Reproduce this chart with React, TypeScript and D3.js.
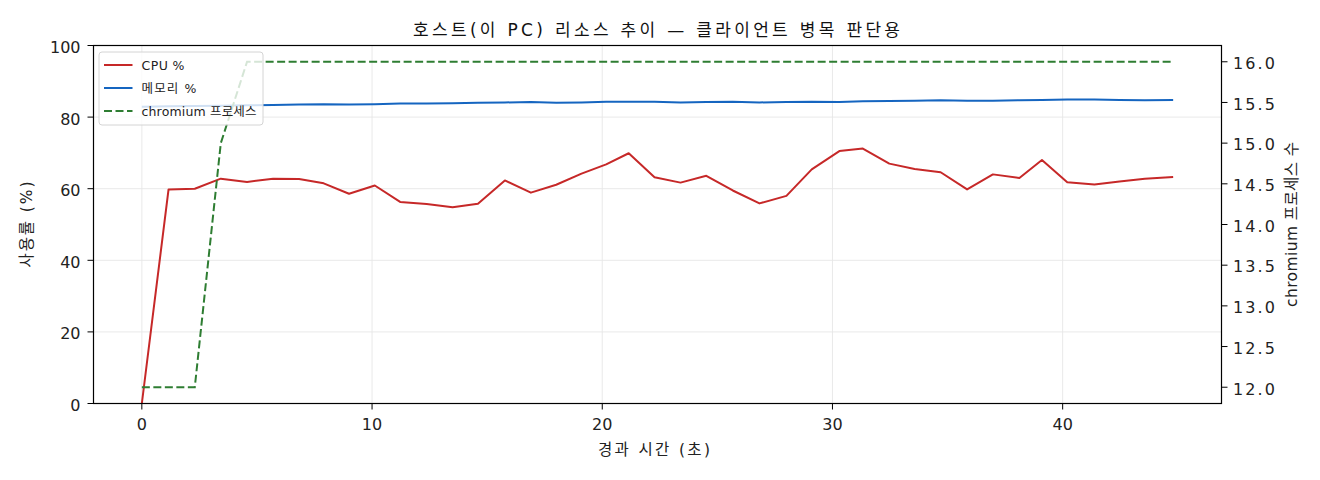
import React, { useEffect, useRef } from 'react';
import * as d3 from 'd3';

// elapsed seconds of each sample
const times = [
  0, 1.16, 2.3, 3.43, 4.57, 5.7, 6.83, 7.9, 9.0, 10.12, 11.22, 12.37, 13.5, 14.6, 15.77, 16.9, 18.0, 19.1,
  20.17, 21.15, 22.27, 23.4, 24.52, 25.67, 26.83, 28.0, 29.1, 30.3, 31.32, 32.47, 33.57, 34.7, 35.85,
  36.97, 38.12, 39.1, 40.2, 41.38, 42.47, 43.57, 44.8,
];

const cpu = [
  0, 59.8, 60.0, 62.8, 61.9, 62.8, 62.7, 61.5, 58.6, 60.9, 56.3, 55.7, 54.8, 55.8, 62.3, 58.9, 61.1, 64.2,
  66.8, 69.9, 63.2, 61.7, 63.6, 59.5, 55.9, 58.0, 65.4, 70.5, 71.2, 67.0, 65.5, 64.6, 59.8, 64.0, 63.0,
  68.0, 61.8, 61.2, 62.0, 62.8, 63.3,
];

const memory = [
  82.9, 83.0, 83.1, 83.2, 83.3, 83.4, 83.5, 83.6, 83.5, 83.6, 83.8, 83.8, 83.9, 84.0, 84.1, 84.2, 84.0,
  84.1, 84.3, 84.3, 84.3, 84.1, 84.2, 84.3, 84.1, 84.2, 84.3, 84.2, 84.4, 84.5, 84.6, 84.7, 84.6, 84.6,
  84.7, 84.8, 84.9, 84.9, 84.8, 84.7, 84.8,
];

const chromium = [
  12, 12, 12, 15, 16, 16, 16, 16, 16, 16, 16, 16, 16, 16, 16, 16, 16, 16, 16, 16, 16, 16, 16, 16, 16, 16,
  16, 16, 16, 16, 16, 16, 16, 16, 16, 16, 16, 16, 16, 16, 16,
];

const xTicks = [0, 10, 20, 30, 40];
const yTicks = [0, 20, 40, 60, 80, 100];
const y2Ticks = [12, 12.5, 13, 13.5, 14, 14.5, 15, 15.5, 16];

const legendItems = [
  { label: 'CPU %', color: '#c62828', dash: '', len: 43 },
  { label: '메모리 %', color: '#1565c0', dash: '', len: 55 },
  { label: 'chromium 프로세스', color: '#2e7d32', dash: '8,3.5', len: 115 },
];

const FONT = '"DejaVu Sans", "Noto Sans CJK KR", sans-serif';

const App = () => {
  const ref = useRef<SVGSVGElement>(null);

  useEffect(() => {
    const svg = d3.select(ref.current);
    svg.selectAll('*').remove();

    const left = 93.5;
    const right = 1221.5;
    const top = 45.5;
    const bottom = 403.5;

    const x = d3.scaleLinear().domain([-2.1, 46.9]).range([left, right]);
    const y = d3.scaleLinear().domain([0, 100]).range([bottom, top]);
    const y2 = d3.scaleLinear().domain([11.8, 16.2]).range([bottom, top]);

    svg.append('rect').attr('width', 1320).attr('height', 480).attr('fill', '#fff');

    // grid
    const grid = svg.append('g').attr('stroke', '#e6e6e6').attr('stroke-width', 0.9);
    xTicks.forEach((t) => {
      grid.append('line').attr('x1', x(t)).attr('x2', x(t)).attr('y1', top).attr('y2', bottom);
    });
    yTicks.forEach((t) => {
      grid.append('line').attr('x1', left).attr('x2', right).attr('y1', y(t)).attr('y2', y(t));
    });

    const idx = d3.range(times.length);

    const line1 = d3
      .line<number>()
      .x((i) => x(times[i]))
      .y((i) => y(cpu[i]));
    const line2 = d3
      .line<number>()
      .x((i) => x(times[i]))
      .y((i) => y(memory[i]));
    const line3 = d3
      .line<number>()
      .x((i) => x(times[i]))
      .y((i) => y2(chromium[i]));

    svg
      .append('path')
      .datum(idx)
      .attr('fill', 'none')
      .attr('stroke', legendItems[0].color)
      .attr('stroke-width', 2)
      .attr('stroke-linejoin', 'round')
      .attr('d', line1);

    svg
      .append('path')
      .datum(idx)
      .attr('fill', 'none')
      .attr('stroke', legendItems[1].color)
      .attr('stroke-width', 2)
      .attr('stroke-linejoin', 'round')
      .attr('d', line2);

    svg
      .append('path')
      .datum(idx)
      .attr('fill', 'none')
      .attr('stroke', legendItems[2].color)
      .attr('stroke-width', 2)
      .attr('stroke-dasharray', legendItems[2].dash)
      .attr('d', line3);

    // legend
    const lg = svg.append('g').attr('transform', 'translate(99,52)');
    lg.append('rect')
      .attr('width', 164)
      .attr('height', 73)
      .attr('rx', 3)
      .attr('fill', 'rgba(255,255,255,0.8)')
      .attr('stroke', '#d4d4d4')
      .attr('stroke-width', 1);
    legendItems.forEach((d, i) => {
      const cy = 13 + i * 23;
      lg.append('line')
        .attr('x1', 5)
        .attr('x2', 33.5)
        .attr('y1', cy)
        .attr('y2', cy)
        .attr('stroke', d.color)
        .attr('stroke-width', 2)
        .attr('stroke-dasharray', d.dash);
      lg.append('text')
        .attr('x', 42.5)
        .attr('y', cy + 4.5)
        .attr('font-size', 12.5)
        .attr('font-family', FONT)
        .attr('textLength', d.len)
        .attr('fill', '#222')
        .text(d.label);
    });

    // frame
    svg
      .append('rect')
      .attr('x', left)
      .attr('y', top)
      .attr('width', right - left)
      .attr('height', bottom - top)
      .attr('fill', 'none')
      .attr('stroke', '#000')
      .attr('stroke-width', 1.2);

    const ax = svg.append('g').attr('font-family', FONT).attr('font-size', 16).attr('fill', '#222');

    xTicks.forEach((t) => {
      ax.append('line').attr('x1', x(t)).attr('x2', x(t)).attr('y1', bottom).attr('y2', bottom + 6).attr('stroke', '#000');
      ax.append('text').attr('x', x(t)).attr('y', bottom + 26).attr('text-anchor', 'middle').text(t);
    });
    yTicks.forEach((t) => {
      ax.append('line').attr('x1', left - 6).attr('x2', left).attr('y1', y(t)).attr('y2', y(t)).attr('stroke', '#000');
      ax.append('text').attr('x', left - 13).attr('y', y(t) + 7.5).attr('text-anchor', 'end').text(t);
    });
    y2Ticks.forEach((t) => {
      ax.append('line').attr('x1', right).attr('x2', right + 6).attr('y1', y2(t)).attr('y2', y2(t)).attr('stroke', '#000');
      ax.append('text')
        .attr('x', right + 11.5)
        .attr('y', y2(t) + 7.3)
        .attr('text-anchor', 'start')
        .attr('textLength', 42)
        .text(t.toFixed(1));
    });

    // labels
    svg
      .append('text')
      .attr('x', 656.5)
      .attr('y', 36)
      .attr('text-anchor', 'middle')
      .attr('font-family', FONT)
      .attr('font-size', 17)
      .attr('textLength', 487)
      .attr('fill', '#111')
      .text('호스트(이 PC) 리소스 추이 — 클라이언트 병목 판단용');

    svg
      .append('text')
      .attr('x', 654)
      .attr('y', 455)
      .attr('text-anchor', 'middle')
      .attr('font-family', FONT)
      .attr('font-size', 15.5)
      .attr('textLength', 112)
      .attr('fill', '#222')
      .text('경과 시간 (초)');

    svg
      .append('text')
      .attr('transform', `translate(32,${(top + bottom) / 2}) rotate(-90)`)
      .attr('text-anchor', 'middle')
      .attr('font-family', FONT)
      .attr('font-size', 15.5)
      .attr('textLength', 86)
      .attr('fill', '#222')
      .text('사용률 (%)');

    svg
      .append('text')
      .attr('transform', `translate(1297,${(top + bottom) / 2}) rotate(-90)`)
      .attr('text-anchor', 'middle')
      .attr('font-family', FONT)
      .attr('font-size', 15.5)
      .attr('textLength', 165)
      .attr('fill', '#222')
      .text('chromium 프로세스 수');
  }, []);

  return (
    <svg
      ref={ref}
      width={1320}
      height={480}
      style={{ position: 'absolute', left: 0, top: 0, display: 'block' }}
    />
  );
};

export default App;
